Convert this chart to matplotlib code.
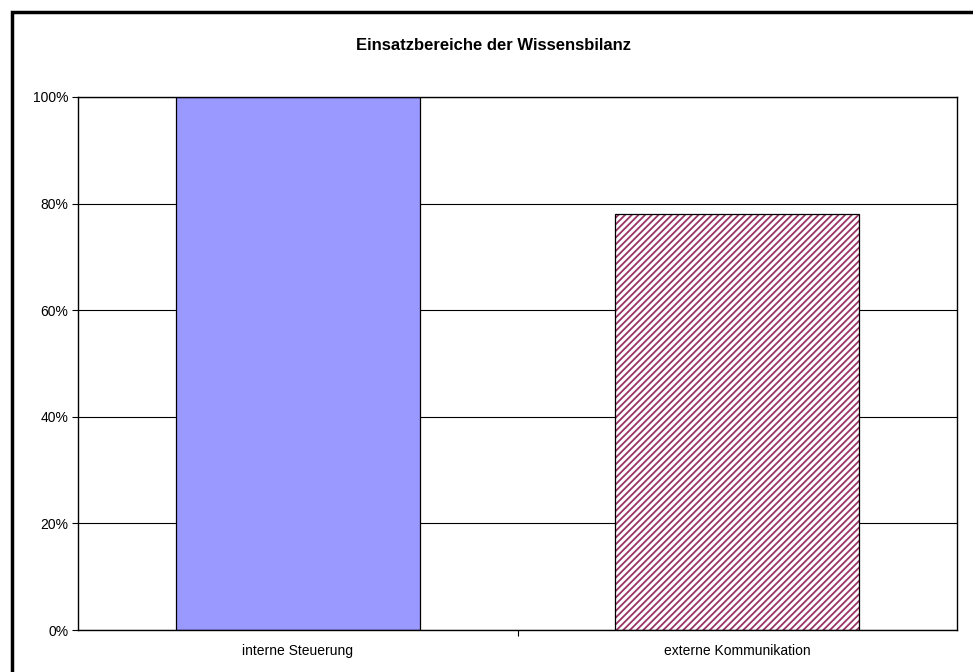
import numpy as np
import matplotlib.pyplot as plt
from matplotlib.patches import Rectangle
from matplotlib.ticker import PercentFormatter

plt.rcParams['font.family'] = ['Liberation Sans', 'DejaVu Sans']
plt.rcParams['hatch.linewidth'] = 1.3

#%%
kategorien = ["interne Steuerung", "externe Kommunikation"]
anteile = [1.00, 0.78]
yticks = [0.0, 0.2, 0.4, 0.6, 0.8, 1.0]

#%%
fig = plt.figure(figsize=(9.73, 6.72), dpi=100)
ax = fig.add_axes([78/973, 1 - 630/672, 879/973, 533/672])

# Rahmen um das Diagramm (nur links und oben sichtbar)
fig.patches.append(Rectangle((12/973, -0.1), 1.2, 1 - 12/672 + 0.1,
                             transform=fig.transFigure, fill=False,
                             edgecolor="black", linewidth=2.5))

x = np.arange(len(kategorien))
ax.set_axisbelow(True)
ax.yaxis.grid(True, color="black", linewidth=0.8)

ax.bar(x[0], anteile[0], width=0.555, color="#9999ff", edgecolor="black", linewidth=0.9)
ax.bar(x[1], anteile[1], width=0.555, color="white", edgecolor="#993366",
       hatch="/////", linewidth=0)
ax.bar(x[1], anteile[1], width=0.555, fill=False, edgecolor="black", linewidth=0.9)

ax.set_xlim(-0.5, 1.5)
ax.set_ylim(0, 1.0)
ax.set_yticks(yticks)
ax.yaxis.set_major_formatter(PercentFormatter(1.0, decimals=0))
ax.set_xticks(x)
ax.set_xticklabels(kategorien, fontsize=10)
ax.tick_params(axis="x", length=0, pad=10)
ax.set_xticks([0.5], minor=True)
ax.tick_params(axis="x", which="minor", length=4, width=0.8, direction="out")
ax.tick_params(axis="y", labelsize=10, length=4, width=0.8, pad=3)
for s in ax.spines.values():
    s.set_linewidth(1.0)

fig.text(493/973, 1 - 45/672, "Einsatzbereiche der Wissensbilanz",
         ha="center", va="center", fontsize=12, fontweight="bold")

plt.savefig("out.png", dpi=100)
